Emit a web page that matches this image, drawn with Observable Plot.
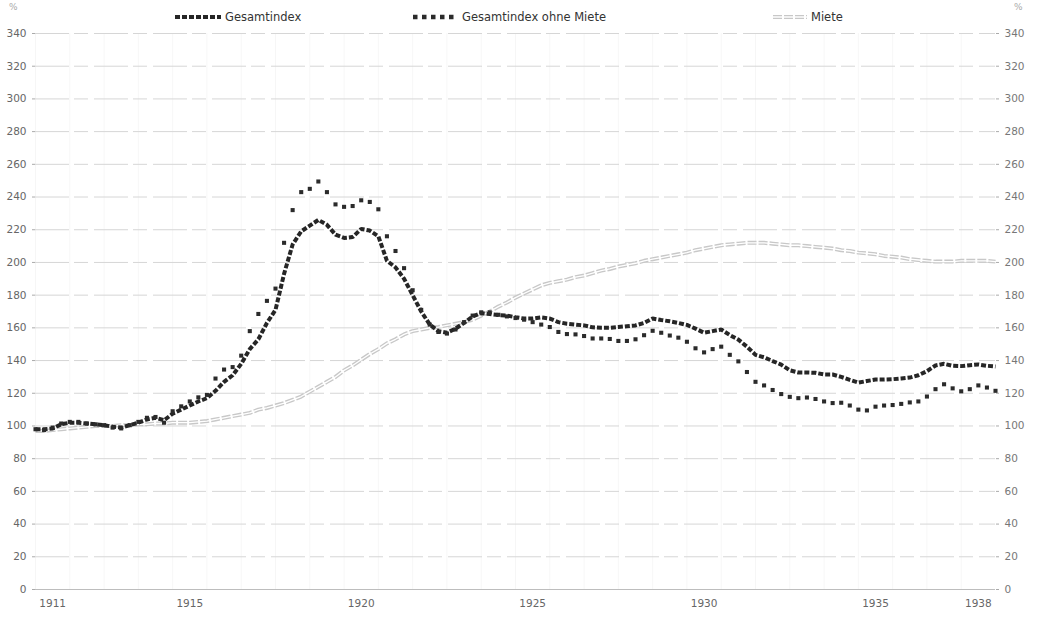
<!DOCTYPE html>
<html>
<head>
<meta charset="utf-8">
<script src="https://cdn.jsdelivr.net/npm/d3@7"></script>
<script src="https://cdn.jsdelivr.net/npm/@observablehq/plot@0.6"></script>
<style>
  body { margin: 0; background: #fff; }
  #wrap { position: relative; width: 1044px; height: 618px; font-family: "DejaVu Sans", sans-serif; background: #fff; }
  #head { position: relative; width: 1044px; height: 26px; }
  .pct { position: absolute; top: 2px; font-size: 9px; color: #aaa; }
  .leg { position: absolute; top: 10px; display: flex; align-items: center; font-size: 11.5px; color: #333; }
  .leg svg { margin-right: 4px; }
</style>
</head>
<body>
<div id="wrap">
  <div id="head">
    <div class="pct" style="left:9px">%</div>
    <div class="pct" style="left:1014px">%</div>
    <div class="leg" style="left:175px">
      <svg width="46" height="10"><line x1="0" y1="5" x2="46" y2="5" stroke="#262626" stroke-width="4" stroke-dasharray="5,2"/></svg>Gesamtindex
    </div>
    <div class="leg" style="left:412px">
      <svg width="46" height="10"><line x1="1" y1="5" x2="46" y2="5" stroke="#2b2b2b" stroke-width="4.5" stroke-dasharray="4.5,4.5"/></svg>Gesamtindex ohne Miete
    </div>
    <div class="leg" style="left:773px">
      <svg width="34" height="10"><line x1="0" y1="5" x2="34" y2="5" stroke="#c8c8c8" stroke-width="4" stroke-dasharray="9,2"/><line x1="0" y1="5" x2="34" y2="5" stroke="#fff" stroke-width="1.3"/></svg>Miete
    </div>
  </div>
  <div id="chart"></div>
</div>
<script>
// Index values, quarterly readings from Jan 1911 to end 1938
const startYear = 1911;
const gesamtindex = [
  98, 98, 98.5, 101, 102, 102, 101.5, 101, 100.5, 99.5,
  99, 100.5, 102, 104, 105, 103.5, 107.5, 110, 112.5, 115,
  117, 121.5, 127, 131, 138, 147, 153, 163, 171, 193,
  211, 219, 222.5, 226, 223, 217, 215, 215.5, 220.5, 219.5,
  216, 201, 197, 190, 180, 170, 162, 158, 157, 159.5,
  163, 167, 169, 168.5, 167.8, 167.5, 166.5, 165.7, 165.7, 166.4,
  165.7, 163.5, 162.5, 162, 161.5, 160.3, 160, 160, 160.5, 161,
  161.5, 163, 165.7, 164.8, 164, 163, 161.8, 159.5, 157, 158,
  159, 155.6, 152.8, 148.5, 143.5, 142, 139.7, 137.5, 134, 132.7,
  132.7, 132.5, 131.5, 131.5, 130, 128.2, 126.5, 127.5, 128.4, 128.4,
  128.6, 129, 129.6, 131, 133.5, 137, 138, 136.8, 136.6, 137.2,
  137.6, 136.8, 136.4
];
const ohneMiete = [
  98, 97.5, 99, 101.5, 102.5, 102.5, 101.5, 101, 100.5, 99,
  98.5, 100.5, 102.5, 105, 105.5, 102, 109, 112, 115, 117.5,
  119, 129, 134.5, 136, 143, 158, 168.5, 176.5, 184, 212,
  232, 243, 245, 249.5, 243, 235.5, 234, 234.5, 238, 237,
  232.5, 216, 207, 196.5, 183, 171, 162, 157.5, 156.5, 159,
  163.5, 167.5, 169.5, 169.5, 168, 167, 166, 165, 163.5, 162,
  160.5, 157.5, 156.2, 156, 155, 153.5, 153.5, 153.2, 152, 152,
  153, 155.5, 158.2, 157, 155.3, 154, 151.5, 147.5, 145, 147,
  148.5, 143.5, 139.5, 133, 127, 124.8, 122, 119.5, 117.8, 117,
  117.4, 116.5, 115, 114, 114.2, 112.5, 110, 109.5, 111.8, 112.5,
  112.8, 113.5, 114.4, 115, 118, 122.5, 125.5, 123, 121.2, 122.5,
  124.8, 123.5, 121.5
];
const miete = [
  97, 97, 97.5, 98, 98.5, 99, 99.5, 100, 100, 100,
  100.5, 100.5, 101, 101, 101.5, 101.5, 102, 102, 102, 102.5,
  103, 104, 105, 106, 107, 108, 110, 111, 112.5, 114,
  116, 118, 121, 124, 127, 130, 134, 137, 140.5, 144,
  147, 150.5, 153, 156, 158, 159, 160, 160.5, 161.5, 162.5,
  163.5, 165, 167.5, 170, 173, 175.5, 178.5, 181, 183.5, 186,
  187.5, 188.5, 189.5, 191, 192, 193.5, 195, 196, 197.5, 198.5,
  199.5, 201, 202, 203, 204, 205, 206, 207.5, 208.5, 209.5,
  210.5, 211, 211.5, 212, 212, 212, 211.5, 211, 210.5, 210.5,
  210, 209.5, 209, 208.5, 207.5, 207, 206, 205.5, 205, 204,
  203.5, 203, 202, 201.5, 201, 200.5, 200.5, 200.5, 201, 201,
  201, 201, 200.5
];
const yTicks = [0, 20, 40, 60, 80, 100, 120, 140, 160, 180, 200, 220, 240, 260, 280, 300, 320, 340];
const xTickYears = [1911, 1915, 1920, 1925, 1930, 1935, 1938];
const gridYears = d3.range(1911, 1939);

const data = gesamtindex.map((v, i) => ({
  t: startYear + i / 4,
  gesamt: v,
  ohne: ohneMiete[i],
  miete: miete[i]
}));

const chart = Plot.plot({
  width: 1044,
  height: 592,
  marginTop: 7,
  marginBottom: 29,
  marginLeft: 35,
  marginRight: 49,
  style: { fontFamily: "DejaVu Sans, sans-serif", fontSize: "10.5px", color: "#666", background: "#fff" },
  x: { domain: [1911, 1939], axis: null },
  y: { domain: [0, 340], axis: null },
  marks: [
    Plot.ruleX(gridYears, { x: d => d, stroke: "#000", strokeOpacity: 0.035 }),
    Plot.ruleY(yTicks.filter(d => d > 0), { y: d => d, stroke: "#d6d6d6", strokeWidth: 1, strokeDasharray: "34,5,14,6" }),
    Plot.ruleY([0], { stroke: "#bdbdbd", strokeWidth: 1 }),
    Plot.axisY({ anchor: "left", ticks: yTicks, tickSize: 3, tickPadding: 6, stroke: "#aaa", color: "#666", fontSize: 10.5, label: null }),
    Plot.axisY({ anchor: "right", ticks: yTicks, tickSize: 3, tickPadding: 6, stroke: "#aaa", color: "#777", fontSize: 10.5, label: null }),
    Plot.axisX({ ticks: xTickYears.map(y => y + 0.5), tickFormat: d => String(Math.floor(d)), tickSize: 0, tickPadding: 10, color: "#666", fontSize: 10.5, label: null }),
    // Miete: light double line
    Plot.line(data, { x: "t", y: "miete", stroke: "#c8c8c8", strokeWidth: 4, strokeDasharray: "9,2", strokeLinecap: "butt", curve: "linear" }),
    Plot.line(data, { x: "t", y: "miete", stroke: "#fff", strokeWidth: 1.3, curve: "linear" }),
    // Gesamtindex: heavy dashed line
    Plot.line(data, { x: "t", y: "gesamt", stroke: "#262626", strokeWidth: 4, strokeDasharray: "5,2", strokeLinecap: "butt", strokeLinejoin: "miter", curve: "linear" }),
    // Gesamtindex ohne Miete: square dots
    Plot.dot(data, { x: "t", y: "ohne", symbol: "square", r: 2.3, fill: "#2b2b2b", stroke: "none" })
  ]
});
document.getElementById("chart").appendChild(chart);
</script>
</body>
</html>
